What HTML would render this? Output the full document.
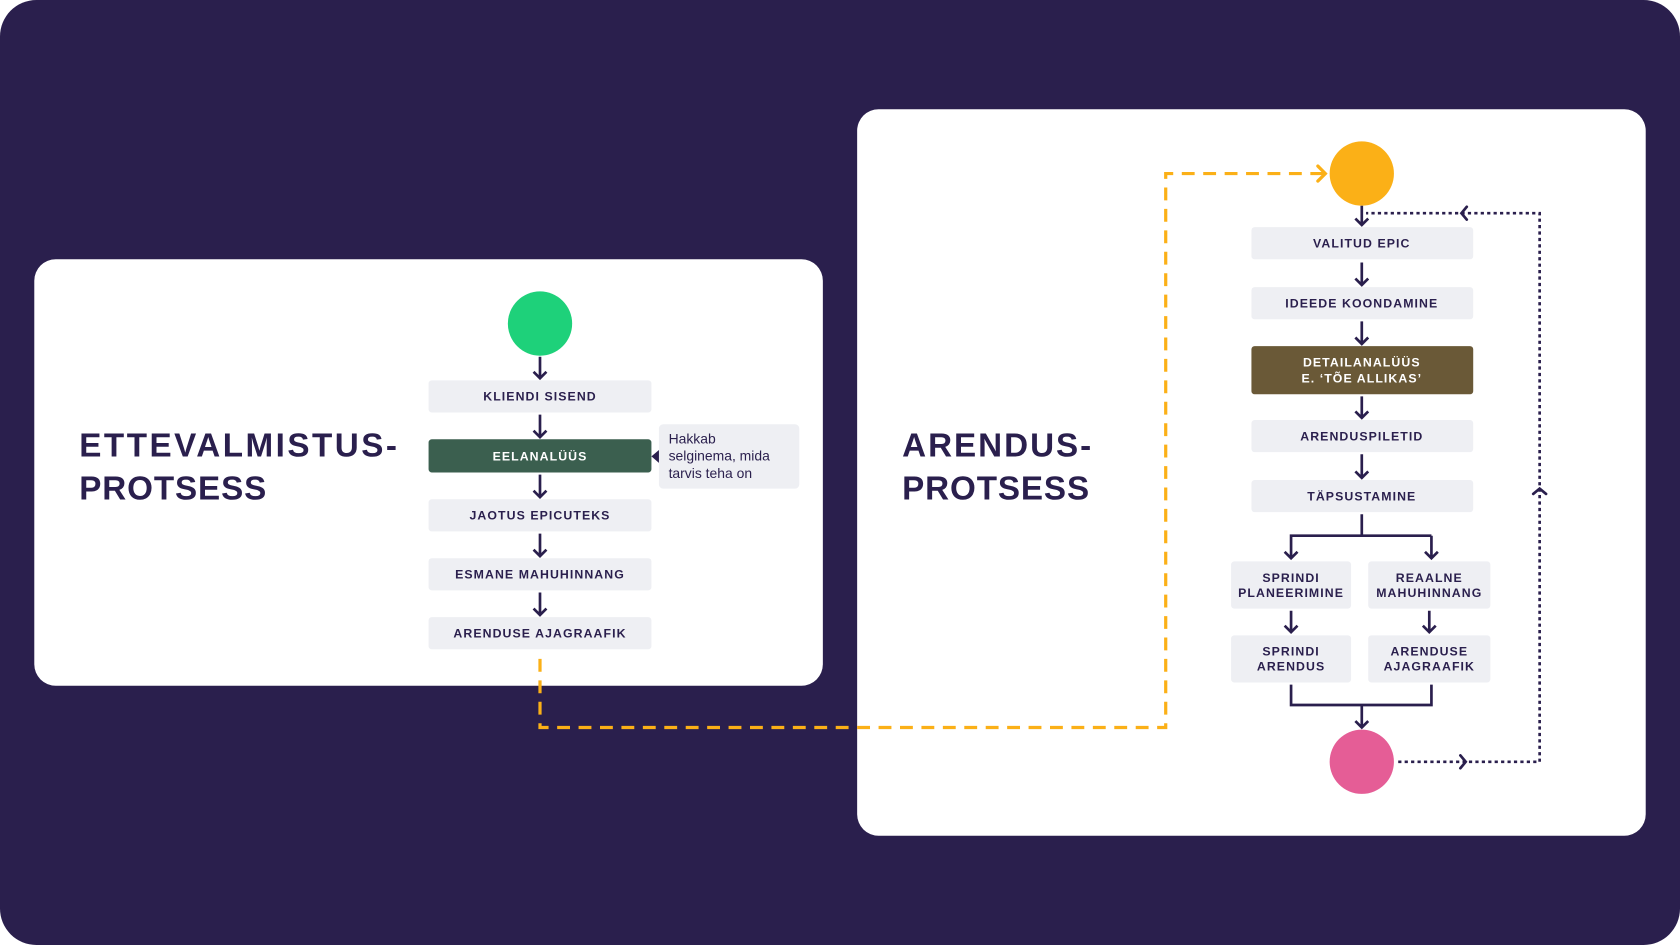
<!DOCTYPE html>
<html><head><meta charset="utf-8"><style>
html,body{margin:0;padding:0;background:#fff;width:1680px;height:945px;overflow:hidden}
svg{display:block}
text{font-family:"Liberation Sans",sans-serif}
.b{font-size:11.5px;font-weight:bold;fill:#2a1f4d;letter-spacing:1px;text-anchor:middle}
.w{fill:#fff}
.t{font-size:31px;font-weight:bold;fill:#2a1f4d;letter-spacing:1.5px}
</style></head><body>
<svg width="1680" height="945" viewBox="0 0 1568 882" xmlns="http://www.w3.org/2000/svg">
<defs>
<marker id="ah" viewBox="0 0 12 10" refX="6" refY="9" markerWidth="12" markerHeight="10" markerUnits="userSpaceOnUse" orient="auto-start-reverse"></marker>
</defs>
<rect x="0" y="0" width="1568" height="882" rx="34" fill="#2a1f4d"/>
<rect x="32" y="242" width="736" height="398" rx="20" fill="#fff"/>
<rect x="800" y="102" width="736" height="678" rx="20" fill="#fff"/>

<text class="t" x="74" y="426" textLength="298">ETTEVALMISTUS-</text>
<text class="t" x="74" y="466" textLength="176">PROTSESS</text>
<text class="t" x="842" y="426" textLength="178">ARENDUS-</text>
<text class="t" x="842" y="466" textLength="176">PROTSESS</text>

<!-- orange dashed -->
<g fill="none" stroke="#fbb017" stroke-width="3">
<path d="M504 615 V679 H1088 V162 H1236" stroke-dasharray="12 8"/>
<path d="M1230 155 L1237 162 L1230 169" stroke-linecap="round"/>
</g>

<!-- left column -->
<circle cx="504" cy="302" r="30" fill="#1ed17a"/>
<g fill="#eeeff3">
<rect x="400" y="355" width="208" height="30" rx="3"/>
<rect x="400" y="466" width="208" height="30" rx="3"/>
<rect x="400" y="521" width="208" height="30" rx="3"/>
<rect x="400" y="576" width="208" height="30" rx="3"/>
<rect x="615" y="396" width="131" height="60" rx="4"/>
</g>
<rect x="400" y="410" width="208" height="31" rx="3" fill="#3b5f4f"/>
<path d="M608 426 L615 420 L615 432 Z" fill="#2a1f4d"/>
<text class="b" x="504" y="374">KLIENDI SISEND</text>
<text class="b w" x="504" y="430">EELANALÜÜS</text>
<text class="b" x="504" y="485">JAOTUS EPICUTEKS</text>
<text class="b" x="504" y="540">ESMANE MAHUHINNANG</text>
<text class="b" x="504" y="595">ARENDUSE AJAGRAAFIK</text>
<g font-size="13" fill="#2a1f4d"><text x="624" y="414">Hakkab</text><text x="624" y="430">selginema, mida</text><text x="624" y="446">tarvis teha on</text></g>

<g fill="none" stroke="#2a1f4d" stroke-width="2.5">
<path d="M504 333 V353 M498 347 L504 353 L510 347"/>
<path d="M504 387 V408 M498 402 L504 408 L510 402"/>
<path d="M504 443 V464 M498 458 L504 464 L510 458"/>
<path d="M504 498 V519 M498 513 L504 519 L510 513"/>
<path d="M504 553 V574 M498 568 L504 574 L510 568"/>
</g>

<!-- right column -->
<circle cx="1271" cy="162" r="30" fill="#fbb017"/>
<circle cx="1271" cy="711" r="30" fill="#e55d96"/>
<g fill="#eeeff3">
<rect x="1168" y="212" width="207" height="30" rx="3"/>
<rect x="1168" y="268" width="207" height="30" rx="3"/>
<rect x="1168" y="392" width="207" height="30" rx="3"/>
<rect x="1168" y="448" width="207" height="30" rx="3"/>
<rect x="1149" y="524" width="112" height="44" rx="3"/>
<rect x="1277" y="524" width="114" height="44" rx="3"/>
<rect x="1149" y="593" width="112" height="44" rx="3"/>
<rect x="1277" y="593" width="114" height="44" rx="3"/>
</g>
<rect x="1168" y="323" width="207" height="45" rx="3" fill="#6a5937"/>
<text class="b" x="1271" y="231">VALITUD EPIC</text>
<text class="b" x="1271" y="287">IDEEDE KOONDAMINE</text>
<text class="b w" x="1271" y="342">DETAILANALÜÜS</text>
<text class="b w" x="1271" y="357">E. ‘TÕE ALLIKAS’</text>
<text class="b" x="1271" y="411">ARENDUSPILETID</text>
<text class="b" x="1271" y="467">TÄPSUSTAMINE</text>
<text class="b" x="1205" y="543">SPRINDI</text>
<text class="b" x="1205" y="557">PLANEERIMINE</text>
<text class="b" x="1334" y="543">REAALNE</text>
<text class="b" x="1334" y="557">MAHUHINNANG</text>
<text class="b" x="1205" y="612">SPRINDI</text>
<text class="b" x="1205" y="626">ARENDUS</text>
<text class="b" x="1334" y="612">ARENDUSE</text>
<text class="b" x="1334" y="626">AJAGRAAFIK</text>

<g fill="none" stroke="#2a1f4d" stroke-width="2.5">
<path d="M1271 192 V210 M1265 204 L1271 210 L1277 204"/>
<path d="M1271 245 V266 M1265 260 L1271 266 L1277 260"/>
<path d="M1271 300 V321 M1265 315 L1271 321 L1277 315"/>
<path d="M1271 370 V390 M1265 384 L1271 390 L1277 384"/>
<path d="M1271 424 V446 M1265 440 L1271 446 L1277 440"/>
<path d="M1271 480 V500 H1205 V521 M1336 500 H1271 M1336 500 V521 M1199 515 L1205 521 L1211 515 M1330 515 L1336 521 L1342 515"/>
<path d="M1205 570 V590 M1199 584 L1205 590 L1211 584 M1334 570 V590 M1328 584 L1334 590 L1340 584"/>
<path d="M1205 639 V658 H1336 V639 M1271 658 V679 M1265 673 L1271 679 L1277 673"/>
</g>

<!-- dotted loop -->
<g fill="none" stroke="#2a1f4d" stroke-width="2.5">
<path d="M1305 711 H1437 V199 H1275" stroke-dasharray="3 3"/>
<path d="M1363 705 L1368 711 L1363 717 M1431 461 L1437 456 L1443 461 M1369 193 L1364 199 L1369 205" stroke-linecap="round"/>
</g>
</svg>
</body></html>
